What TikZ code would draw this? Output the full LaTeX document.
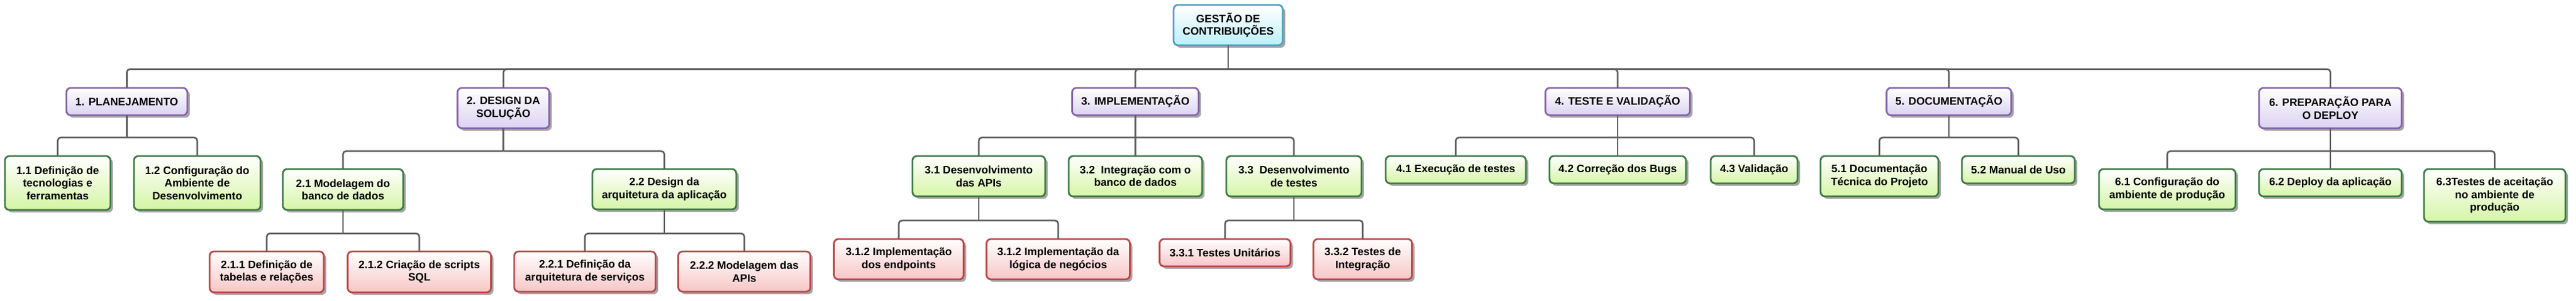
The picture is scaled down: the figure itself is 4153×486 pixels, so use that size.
\documentclass[tikz,border=0pt]{standalone}
\usepackage{fontspec}
\setmainfont{Liberation Sans}
\usetikzlibrary{shadows}
\definecolor{rootline}{HTML}{4AA3BF}
\definecolor{rootfill}{HTML}{BDEFFA}
\definecolor{phaseline}{HTML}{8565A8}
\definecolor{phasefill}{HTML}{DCD3F2}
\definecolor{taskline}{HTML}{3E7A45}
\definecolor{taskfill}{HTML}{D5F5A6}
\definecolor{subline}{HTML}{B94848}
\definecolor{subfill}{HTML}{F7C6C6}
\definecolor{linkgray}{HTML}{5C5C5C}

\begin{document}
\begin{tikzpicture}[x=1pt,y=-1pt,inner sep=2pt,outer sep=0pt,
font=\fontsize{17.5}{20.5}\selectfont\bfseries,
wbsbox/.style={draw,rectangle,rounded corners=7pt,line width=2.8pt,align=center,anchor=north,
  drop shadow={shadow xshift=4pt,shadow yshift=-4pt,fill=black!35,opacity=1}},
rootblock/.style={wbsbox,draw=rootline,top color=white,bottom color=rootfill},
phaseblock/.style={wbsbox,draw=phaseline,top color=white,bottom color=phasefill},
taskblock/.style={wbsbox,draw=taskline,top color=white,bottom color=taskfill},
subblock/.style={wbsbox,draw=subline,top color=white,bottom color=subfill},
link/.style={draw=linkgray,line width=2.6pt,rounded corners=5pt}]

\useasboundingbox (0,0) rectangle (4153,486);

\node[rootblock,minimum width=176pt,minimum height=65pt] (root) at (1980,8) {GESTÃO DE\\CONTRIBUIÇÕES};

% fases
\node[phaseblock,minimum width=195pt,minimum height=44pt] (p1) at (204.5,142) {1. PLANEJAMENTO};
\node[phaseblock,minimum width=148pt,minimum height=65pt] (p2) at (811.6,142) {2. DESIGN DA\\SOLUÇÃO};
\node[phaseblock,minimum width=204pt,minimum height=44pt] (p3) at (1830.4,142) {3. IMPLEMENTAÇÃO};
\node[phaseblock,minimum width=233pt,minimum height=44pt] (p4) at (2608,142) {4. TESTE E VALIDAÇÃO};
\node[phaseblock,minimum width=201pt,minimum height=44pt] (p5) at (3142,142) {5. DOCUMENTAÇÃO};
\node[phaseblock,minimum width=230pt,minimum height=65pt] (p6) at (3757,142) {6. PREPARAÇÃO PARA\\O DEPLOY};

% tarefas
\node[taskblock,minimum width=170pt,minimum height=87pt] (t11) at (93,252) {1.1 Definição de\\tecnologias e\\ferramentas};
\node[taskblock,minimum width=204pt,minimum height=87pt] (t12) at (318,252) {1.2 Configuração do\\Ambiente de\\Desenvolvimento};
\node[taskblock,minimum width=194pt,minimum height=66pt] (t21) at (553,273) {2.1 Modelagem do\\banco de dados};
\node[taskblock,minimum width=232pt,minimum height=65pt] (t22) at (1071,273) {2.2 Design da\\arquitetura da aplicação};
\node[taskblock,minimum width=214pt,minimum height=65pt] (t31) at (1578,252) {3.1 Desenvolvimento\\das APIs};
\node[taskblock,minimum width=215pt,minimum height=65pt] (t32) at (1830.4,252) {3.2\ \ Integração com o\\banco de dados};
\node[taskblock,minimum width=218pt,minimum height=65pt] (t33) at (2086,252) {3.3\ \ Desenvolvimento\\de testes};
\node[taskblock,minimum width=226pt,minimum height=44pt] (t41) at (2347,252) {4.1 Execução de testes};
\node[taskblock,minimum width=220pt,minimum height=44pt] (t42) at (2608,252) {4.2 Correção dos Bugs};
\node[taskblock,minimum width=140pt,minimum height=44pt] (t43) at (2828,252) {4.3 Validação};
\node[taskblock,minimum width=190pt,minimum height=65pt] (t51) at (3030,252) {5.1 Documentação\\Técnica do Projeto};
\node[taskblock,minimum width=182pt,minimum height=44pt] (t52) at (3254,252) {5.2 Manual de Uso};
\node[taskblock,minimum width=220pt,minimum height=65pt] (t61) at (3494,273) {6.1 Configuração do\\ambiente de produção};
\node[taskblock,minimum width=230pt,minimum height=44pt] (t62) at (3757,273) {6.2 Deploy da aplicação};
\node[taskblock,minimum width=228pt,minimum height=85pt] (t63) at (4022,273) {6.3Testes de aceitação\\no ambiente de\\produção};

% subtarefas
\node[subblock,minimum width=184pt,minimum height=66pt] (s211) at (430,406) {2.1.1 Definição de\\tabelas e relações};
\node[subblock,minimum width=231pt,minimum height=66pt] (s212) at (676,406) {2.1.2 Criação de scripts\\SQL};
\node[subblock,minimum width=228pt,minimum height=65pt] (s221) at (943,406) {2.2.1 Definição da\\arquitetura de serviços};
\node[subblock,minimum width=213pt,minimum height=65pt] (s222) at (1200,406) {2.2.2 Modelagem das\\APIs};
\node[subblock,minimum width=209pt,minimum height=65pt] (s311) at (1449,386) {3.1.2 Implementação\\dos endpoints};
\node[subblock,minimum width=231pt,minimum height=65pt] (s312) at (1706,386) {3.1.2 Implementação da\\lógica de negócios};
\node[subblock,minimum width=211pt,minimum height=44pt] (s331) at (1975,386) {3.3.1 Testes Unitários};
\node[subblock,minimum width=159pt,minimum height=65pt] (s332) at (2197,386) {3.3.2 Testes de\\Integração};

% ligacoes
\foreach \up/\busy/\kids in {root/111.7/{p1,p2,p3,p4,p5,p6},
  p1/222/{t11,t12}, p2/244/{t21,t22}, p3/222/{t31,t32,t33},
  p4/222/{t41,t42,t43}, p5/222/{t51,t52}, p6/244/{t61,t62,t63},
  t21/377/{s211,s212}, t22/377/{s221,s222}, t31/356/{s311,s312}, t33/356/{s331,s332}} {
  \coordinate (busy) at (0,\busy);
  \coordinate (j-\up) at (\up.south |- busy);
  \draw[link] (\up.south) -- (j-\up);
  \foreach \k in \kids \draw[link] (j-\up) -| (\k.north);
}
\end{tikzpicture}
\end{document}
